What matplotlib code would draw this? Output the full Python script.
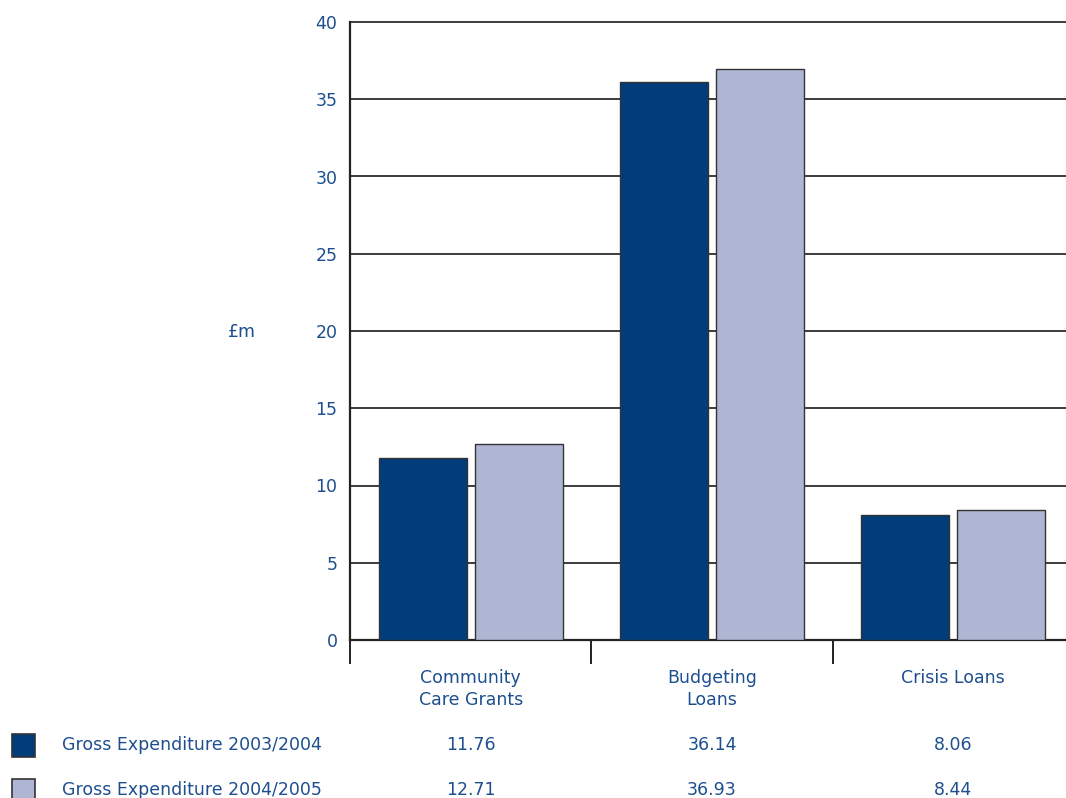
import numpy as np
import matplotlib.pyplot as plt
from matplotlib.patches import Rectangle
from matplotlib.transforms import blended_transform_factory

# Social Fund gross expenditure by scheme (£m)
categories = ['Community\nCare Grants', 'Budgeting\nLoans', 'Crisis Loans']
series_names = ['Gross Expenditure 2003/2004', 'Gross Expenditure 2004/2005']
exp_2003 = [11.76, 36.14, 8.06]
exp_2004 = [12.71, 36.93, 8.44]
y_ticks = [0, 5, 10, 15, 20, 25, 30, 35, 40]

dark_blue = '#003d7a'
light_blue = '#aeb6d4'
text_blue = '#1d4f8f'
edge = '#333333'

plt.rcParams['font.family'] = ['DejaVu Sans']
plt.rcParams['font.size'] = 12.5

W, H = 1066, 798
fig = plt.figure(figsize=[W / 100, H / 100], dpi=100)

# Axes runs slightly past the right edge of the canvas
ax = fig.add_axes([350 / W, 158 / H, 724 / W, 618 / H])

x = np.arange(len(categories)) + 0.5
bw = 0.364
off = 0.199
ax.bar(x - off, exp_2003, bw, color=dark_blue, edgecolor=edge, linewidth=1.0, zorder=3)
ax.bar(x + off, exp_2004, bw, color=light_blue, edgecolor=edge, linewidth=1.0, zorder=3)

ax.set_xlim(0, len(categories))
ax.set_ylim(0, 40)

# Gridlines
for yv in y_ticks[1:]:
    ax.axhline(yv, color='#1a1a1a', linewidth=1.2, zorder=1, clip_on=False)

ax.set_yticks(y_ticks)
ax.set_yticklabels([str(v) for v in y_ticks], color=text_blue, fontsize=12.5)
ax.tick_params(axis='y', length=0, pad=9)

# Ticks at category boundaries only
ax.set_xticks(np.arange(len(categories) + 1))
ax.set_xticklabels([])
ax.tick_params(axis='x', length=17, width=1.4, color='#222222', direction='out')

for s in ['top', 'right']:
    ax.spines[s].set_visible(False)
ax.spines['left'].set_linewidth(1.6)
ax.spines['left'].set_color('#222222')
ax.spines['bottom'].set_linewidth(1.6)
ax.spines['bottom'].set_color('#222222')

fig.text(242 / W, 1 - 332 / H, '£m', color=text_blue, ha='center', va='center')

trans = blended_transform_factory(ax.transData, fig.transFigure)

# Category labels below axis, top-aligned
for xi, cat in zip(x, categories):
    ax.text(xi, 1 - 669 / H, cat, transform=trans, ha='center', va='top',
            color=text_blue, linespacing=1.3, clip_on=False)

# Data table rows with legend swatches
rows = [(series_names[0], exp_2003, dark_blue, 745),
        (series_names[1], exp_2004, light_blue, 790)]
for name, vals, col, ypix in rows:
    fig.patches.append(Rectangle((12 / W, 1 - (ypix + 12) / H), 23 / W, 23 / H,
                                 transform=fig.transFigure, facecolor=col,
                                 edgecolor=edge, linewidth=1.2))
    fig.text(62 / W, 1 - ypix / H, name, color=text_blue, ha='left', va='center')
    for xi, v in zip(x, vals):
        ax.text(xi, 1 - ypix / H, f'{v:.2f}', transform=trans, ha='center',
                va='center', color=text_blue, clip_on=False)

fig.savefig('out.png', dpi=100)
